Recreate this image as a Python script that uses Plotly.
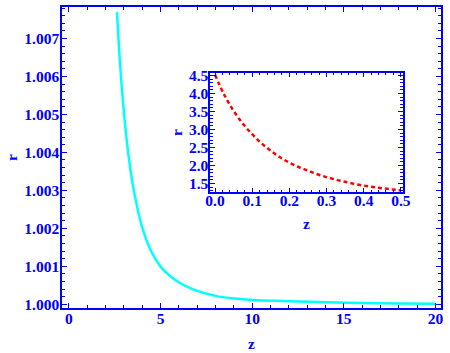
import plotly.graph_objects as go

# main curve (cyan)
z_main = [2.62, 2.8, 3.0, 3.25, 3.5, 3.75, 4.0, 4.5, 5.0, 5.5, 6.0, 6.5, 7.0,
          8.0, 9.0, 10.0, 12.0, 14.0, 16.0, 18.0, 20.0]
r_main = [1.00770, 1.00625, 1.00505, 1.00392, 1.00310, 1.00250, 1.00202,
          1.00138, 1.00099, 1.00075, 1.00058, 1.00045, 1.00035, 1.00022,
          1.00015, 1.00011, 1.00008, 1.00005, 1.00003, 1.00002, 1.000015]

# inset curve (red dashed)
z_inset = [0.0, 0.025, 0.05, 0.075, 0.1, 0.125, 0.15, 0.175, 0.2, 0.225, 0.25,
           0.275, 0.3, 0.325, 0.35, 0.375, 0.4, 0.425, 0.45, 0.475, 0.5]
r_inset = [4.52, 3.96, 3.52, 3.16, 2.87, 2.62, 2.41, 2.23, 2.08, 1.96, 1.86,
           1.76, 1.68, 1.61, 1.55, 1.49, 1.445, 1.405, 1.37, 1.34, 1.31]

main_ticks_y = [1.000, 1.001, 1.002, 1.003, 1.004, 1.005, 1.006, 1.007]
main_ticks_x = [0, 5, 10, 15, 20]

blue = "#0000ff"
tfont = dict(family="Liberation Serif", size=15.5, color=blue, weight="bold")

fig = go.Figure()
fig.add_trace(go.Scatter(x=z_main, y=r_main, mode="lines",
                         line=dict(color="#00ffff", width=2.5, shape="spline"),
                         xaxis="x", yaxis="y", showlegend=False, hoverinfo="skip"))
fig.add_trace(go.Scatter(x=z_inset, y=r_inset, mode="lines",
                         line=dict(color="red", width=2.5, dash="4px,3px", shape="spline"),
                         xaxis="x2", yaxis="y2", showlegend=False, hoverinfo="skip"))

axis_common = dict(showline=True, linecolor=blue, linewidth=1.5, mirror="allticks",
                   ticks="inside", tickcolor=blue, tickwidth=1.2, ticklen=5,
                   showgrid=False, zeroline=False, tickfont=tfont)

fig.update_layout(
    width=450, height=353,
    margin=dict(l=62, r=2, t=1, b=45),
    plot_bgcolor="white", paper_bgcolor="white",
    xaxis=dict(axis_common, domain=[0, 1], range=[-0.38, 20.3],
               tickvals=main_ticks_x, ticktext=[str(v) for v in main_ticks_x],
               ticklabelstandoff=-4,
               minor=dict(ticks="inside", ticklen=3, dtick=1, tickcolor=blue),
               title=dict(text="z", font=tfont, standoff=12)),
    yaxis=dict(axis_common, domain=[0, 1], range=[0.99990, 1.00783],
               tickvals=main_ticks_y, ticktext=[f"{v:.3f}" for v in main_ticks_y],
               ticklabelstandoff=-2,
               minor=dict(ticks="inside", ticklen=3, dtick=0.0002, tick0=1.0, tickcolor=blue),
               title=dict(text="r", font=tfont, standoff=3)),
    xaxis2=dict(axis_common, domain=[0.391, 0.899], range=[-0.013, 0.505], anchor="y2",
                dtick=0.1, tickformat=".1f", ticklabelstandoff=-7,
                minor=dict(ticks="inside", ticklen=3, dtick=0.02, tickcolor=blue),
                title=dict(text="z", font=tfont, standoff=10)),
    yaxis2=dict(axis_common, domain=[0.384, 0.782], range=[1.255, 4.58], anchor="x2",
                dtick=0.5, tickformat=".1f", tick0=1.5, ticklabelstandoff=-3,
                minor=dict(ticks="inside", ticklen=3, dtick=0.1, tickcolor=blue),
                title=dict(text="r", font=tfont, standoff=3)),
)

fig.write_html("out.html", config={"displayModeBar": False},
               post_script="document.body.style.margin='0';")
